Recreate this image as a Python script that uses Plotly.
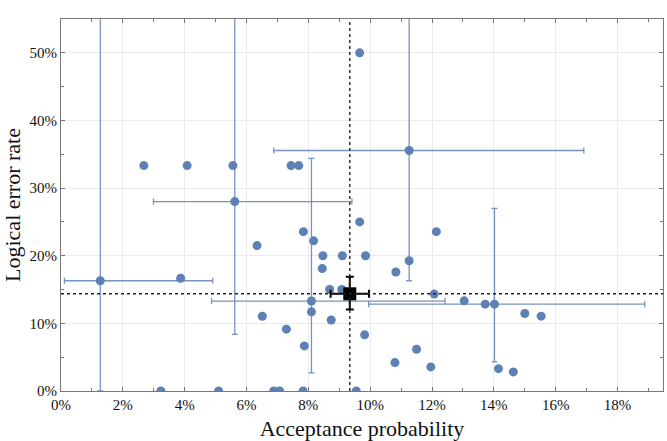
import plotly.graph_objects as go

# ---- data (percent) ----
# points with error bars: value, lower bound, upper bound
eb_x = [1.27, 5.62, 11.26, 8.10, 14.02]
eb_y = [16.3, 28.0, 35.56, 13.3, 12.84]
eb_x_lo = [0.11, 2.99, 6.88, 4.87, 9.95]
eb_x_hi = [4.91, 9.41, 16.91, 12.42, 18.88]
eb_y_lo = [0.0, 8.36, 16.3, 2.67, 4.3]
eb_y_hi = [100.0, 100.0, 100.0, 34.4, 27.0]

# points without error bars
pt_x = [3.87, 2.68, 4.08, 5.56, 7.44, 7.69, 9.66, 9.66, 7.84, 6.34, 8.17, 12.14,
        8.47, 9.10, 9.85, 11.26, 8.45, 10.83, 8.69, 9.08, 12.07, 13.04, 13.72,
        8.10, 15.00, 15.53, 6.51, 8.74, 7.29, 9.82, 7.87, 11.50, 10.80, 11.96,
        14.15, 14.63, 3.23, 5.10, 6.88, 7.07, 7.83, 9.55]
pt_y = [16.67, 33.33, 33.33, 33.33, 33.33, 33.33, 50.0, 25.0, 23.56, 21.5, 22.2, 23.56,
        20.0, 20.0, 20.0, 19.26, 18.1, 17.6, 15.0, 15.0, 14.33, 13.33, 12.84,
        11.7, 11.46, 11.07, 11.05, 10.5, 9.14, 8.3, 6.67, 6.18, 4.2, 3.56,
        3.3, 2.82, 0.0, 0.0, 0.0, 0.0, 0.0, 0.0]

# overall mean with error
mean_x, mean_y = 9.34, 14.37
mean_x_lo, mean_x_hi = 8.72, 9.96
mean_y_lo, mean_y_hi = 12.06, 16.9

x_ticks = [0, 2, 4, 6, 8, 10, 12, 14, 16, 18]
x_labels = ["0%", "2%", "4%", "6%", "8%", "10%", "12%", "14%", "16%", "18%"]
y_ticks = [0, 10, 20, 30, 40, 50]
y_labels = ["0%", "10%", "20%", "30%", "40%", "50%"]

BLUE = "#5E81B5"
BAR = "rgba(94,129,181,0.85)"
FONT = "Liberation Serif"

fig = go.Figure()

fig.add_trace(go.Scatter(
    x=eb_x, y=eb_y, mode="markers",
    marker=dict(color=BLUE, size=9),
    error_x=dict(type="data", symmetric=False,
                 array=[h - v for h, v in zip(eb_x_hi, eb_x)],
                 arrayminus=[v - l for v, l in zip(eb_x, eb_x_lo)],
                 color=BAR, thickness=1.3, width=3),
    error_y=dict(type="data", symmetric=False,
                 array=[h - v for h, v in zip(eb_y_hi, eb_y)],
                 arrayminus=[v - l for v, l in zip(eb_y, eb_y_lo)],
                 color=BAR, thickness=1.3, width=3),
    showlegend=False, hoverinfo="skip"))

fig.add_trace(go.Scatter(
    x=pt_x, y=pt_y, mode="markers",
    marker=dict(color=BLUE, size=9),
    showlegend=False))

fig.add_vline(x=mean_x, line=dict(color="#222", width=1.4, dash="3px,3px"), layer="above")
fig.add_hline(y=mean_y, line=dict(color="#222", width=1.4, dash="3px,3px"), layer="above")

fig.add_trace(go.Scatter(
    x=[mean_x], y=[mean_y], mode="markers",
    marker=dict(color="black", size=13, symbol="square"),
    error_x=dict(type="data", symmetric=False,
                 array=[mean_x_hi - mean_x], arrayminus=[mean_x - mean_x_lo],
                 color="black", thickness=2, width=4),
    error_y=dict(type="data", symmetric=False,
                 array=[mean_y_hi - mean_y], arrayminus=[mean_y - mean_y_lo],
                 color="black", thickness=2, width=4),
    showlegend=False))

tickfont = dict(family=FONT, size=15, color="#111")
titlefont = dict(family=FONT, size=22, color="#111")

fig.update_xaxes(
    range=[0, 19.47], tickmode="array", tickvals=x_ticks, ticktext=x_labels,
    showline=True, linecolor="#777", linewidth=1, mirror="allticks",
    ticks="inside", ticklen=4, tickcolor="#777",
    showgrid=True, gridcolor="#ebebeb", gridwidth=1, zeroline=False,
    tickfont=tickfont, automargin=False,
    minor=dict(ticks="inside", dtick=1, ticklen=3, tickcolor="#777", showgrid=False),
    title=dict(text="Acceptance probability", font=titlefont))
fig.update_yaxes(
    range=[0, 55], tickmode="array", tickvals=y_ticks, ticktext=y_labels,
    showline=True, linecolor="#777", linewidth=1, mirror="allticks",
    ticks="inside", ticklen=4, tickcolor="#777",
    showgrid=True, gridcolor="#ebebeb", gridwidth=1, zeroline=False,
    tickfont=tickfont, automargin=False,
    minor=dict(ticks="inside", dtick=5, ticklen=3, tickcolor="#777", showgrid=False),
    title=dict(text="Logical error rate", font=titlefont))

fig.update_layout(
    width=667, height=441,
    margin=dict(l=61, r=4, t=19, b=50),
    plot_bgcolor="white", paper_bgcolor="white",
)

fig.write_html("out.html", config={"displayModeBar": False},
               post_script="document.body.style.margin='0';document.body.style.overflow='hidden';")
